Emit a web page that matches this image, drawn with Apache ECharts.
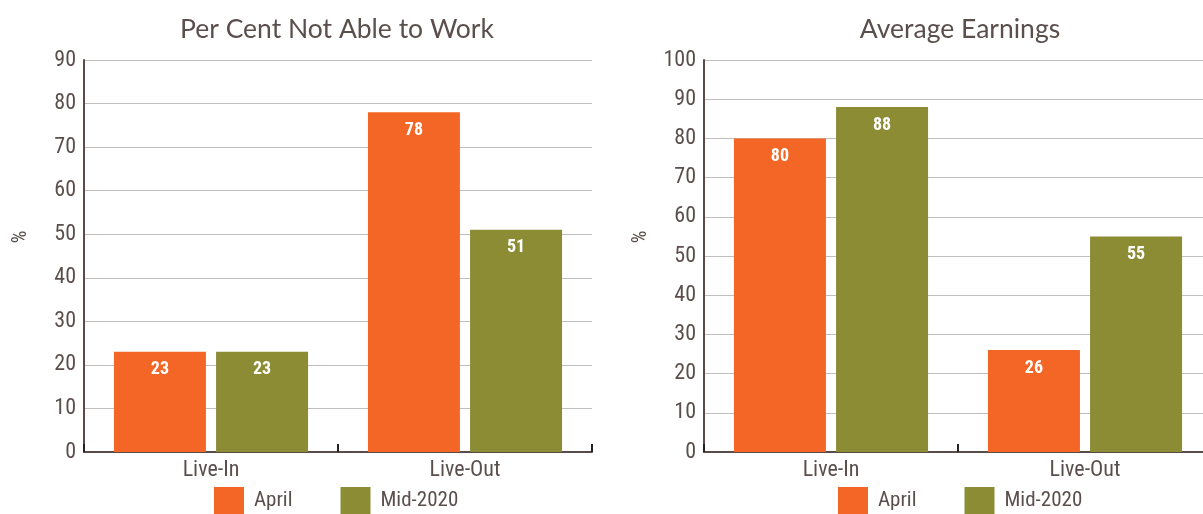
<!DOCTYPE html>
<html><head><meta charset="utf-8">
<script src="https://cdn.jsdelivr.net/npm/echarts@6/dist/echarts.min.js"></script>
<style>html,body{margin:0;padding:0;background:#fff}#c{width:1203px;height:514px}</style>
</head><body><div id="c"></div>
<script>
const categories = ['Live-In', 'Live-Out'];
const seriesNames = ['April', 'Mid-2020'];
const notAbleApril = [23, 78];
const notAbleMid = [23, 51];
const earningsApril = [80, 26];
const earningsMid = [88, 55];
const titles = ['Per Cent Not Able to Work', 'Average Earnings'];
const yMax = [90, 100];

const orange = '#F46625';
const olive = '#8C8C35';
const txt = '#5b4f4d';
const cond = "'Roboto Condensed','Liberation Sans Narrow','DejaVu Sans Condensed',sans-serif";

const chart = echarts.init(document.getElementById('c'), null, {renderer: 'canvas'});

function xAx(i) {
  return {
    type: 'category', gridIndex: i, data: categories,
    axisLine: {lineStyle: {color: '#5a4a48', width: 2}},
    axisTick: {show: true, inside: true, length: 8, lineStyle: {color: '#222', width: 2}},
    axisLabel: {color: txt, fontSize: 22, fontFamily: cond, margin: 7}
  };
}
function yAx(i, gap) {
  return {
    type: 'value', gridIndex: i, min: 0, max: yMax[i], interval: 10,
    name: '%', nameLocation: 'middle', nameGap: gap, nameRotate: 90,
    nameTextStyle: {color: txt, fontSize: 20, fontFamily: cond, padding: [0, 0, 0, 38]},
    axisLine: {show: true, lineStyle: {color: '#5a4a48', width: 2}},
    axisTick: {show: false},
    axisLabel: {color: txt, fontSize: 22, fontFamily: cond, margin: 8},
    splitLine: {lineStyle: {color: '#c2bebe', width: 1}}
  };
}
function ser(name, data, color, i) {
  return {
    type: 'bar', name: name, data: data, xAxisIndex: i, yAxisIndex: i,
    barWidth: 92, barGap: '11%',
    itemStyle: {color: color},
    label: {show: true, position: 'insideTop', distance: 9, color: '#fff',
      fontWeight: 'bold', fontSize: 18, fontFamily: cond}
  };
}
function legend(x) {
  return {
    data: seriesNames, left: x, top: 487, padding: 0, itemWidth: 30, itemHeight: 27, itemGap: 48,
    icon: 'rect',
    textStyle: {color: txt, fontSize: 21, fontFamily: cond, padding: [0, 0, 0, 5]}
  };
}

chart.setOption({
  animation: false,
  title: [
    {text: titles[0], left: 332, top: 11, textAlign: 'center',
     textStyle: {color: txt, fontSize: 26.5, fontWeight: 'normal', fontFamily: 'Lato, sans-serif'}},
    {text: titles[1], left: 955, top: 11, textAlign: 'center',
     textStyle: {color: txt, fontSize: 26.5, fontWeight: 'normal', fontFamily: 'Lato, sans-serif'}}
  ],
  legend: [legend(214), legend(838)],
  grid: [
    {left: 84, top: 60, right: 611, bottom: 62, outerBoundsMode: 'none', containLabel: false},
    {left: 704, top: 60, right: -9, bottom: 62, outerBoundsMode: 'none', containLabel: false}
  ],
  xAxis: [xAx(0), xAx(1)],
  yAxis: [yAx(0, 53), yAx(1, 53)],
  series: [
    ser(seriesNames[0], notAbleApril, orange, 0),
    ser(seriesNames[1], notAbleMid, olive, 0),
    ser(seriesNames[0], earningsApril, orange, 1),
    ser(seriesNames[1], earningsMid, olive, 1)
  ]
});
</script></body></html>
